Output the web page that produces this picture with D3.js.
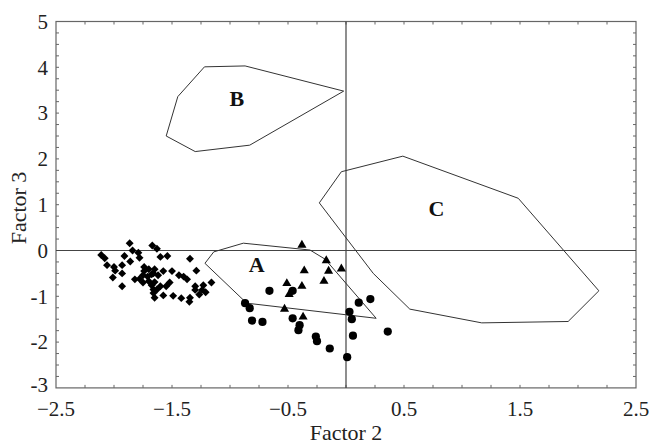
<!DOCTYPE html>
<html><head><meta charset="utf-8">
<script src="https://cdn.jsdelivr.net/npm/d3@7"></script>
<style>body{margin:0;background:#fff}svg{display:block}text{font-family:"Liberation Serif","Times New Roman",serif;fill:#222}</style>
</head><body><div id="chart"></div>
<script>
const xTicks = [-2.5,-1.5,-0.5,0.5,1.5,2.5];
const yTicks = [-3,-2,-1,0,1,2,3,4,5];
const xLabel = "Factor 2", yLabel = "Factor 3";

// point groups [factor2, factor3]
const diamonds = [[-1.865,0.16],[-1.84,0.0],[-1.79,-0.05],[-2.11,-0.10],[-2.08,-0.17],[-1.91,-0.12],[-1.86,-0.24],[-2.06,-0.32],[-2.00,-0.36],[-1.99,-0.44],[-1.93,-0.32],[-2.01,-0.59],[-1.93,-0.50],[-1.74,-0.36],[-1.74,-0.45],[-1.70,-0.41],[-1.82,-0.63],[-1.78,-0.62],[-1.75,-0.54],[-1.71,-0.57],[-1.675,-0.52],[-1.75,-0.70],[-1.70,-0.67],[-1.675,-0.76],[-1.93,-0.78],[-1.66,-0.85],[-1.65,-1.03],[-1.67,0.11],[-1.63,0.04],[-1.60,-0.14],[-1.54,-0.12],[-1.345,-0.18],[-1.29,-0.44],[-1.65,-0.41],[-1.66,-0.50],[-1.62,-0.54],[-1.575,-0.45],[-1.50,-0.45],[-1.44,-0.54],[-1.40,-0.57],[-1.37,-0.63],[-1.52,-0.70],[-1.65,-0.69],[-1.60,-0.78],[-1.55,-0.78],[-1.63,-0.85],[-1.66,-0.93],[-1.575,-0.98],[-1.49,-0.99],[-1.30,-0.78],[-1.23,-0.76],[-1.16,-0.70],[-1.30,-0.86],[-1.24,-0.86],[-1.265,-0.96],[-1.21,-0.91],[-1.345,-1.03],[-1.35,-1.12],[-1.42,-1.04],[-1.78,-0.16]];
const triangles = [[-0.38,0.12],[-0.17,-0.22],[-0.36,-0.44],[-0.15,-0.45],[-0.04,-0.40],[-0.19,-0.67],[-0.51,-0.72],[-0.38,-0.78],[-0.49,-0.96],[-0.53,-1.28],[-0.37,-1.45]];
const circles = [[-0.66,-0.88],[-0.46,-0.88],[-0.87,-1.15],[-0.83,-1.26],[-0.81,-1.53],[-0.72,-1.56],[-0.46,-1.48],[-0.40,-1.63],[-0.41,-1.74],[-0.26,-1.88],[-0.25,-1.98],[-0.14,-2.14],[0.01,-2.33],[0.03,-1.34],[0.05,-1.50],[0.06,-1.86],[0.11,-1.14],[0.21,-1.06],[0.36,-1.77]];

const polyA = [[-1.14,-0.03],[-0.885,0.16],[-0.31,0.01],[-0.18,-0.19],[0.26,-1.48],[-0.856,-1.15],[-1.216,-0.28]];
const polyB = [[-1.22,4.01],[-0.87,4.03],[-0.02,3.48],[-0.83,2.30],[-1.30,2.16],[-1.55,2.50],[-1.45,3.36]];
const polyC = [[-0.04,1.72],[0.49,2.06],[1.485,1.14],[2.18,-0.88],[1.915,-1.55],[1.17,-1.58],[0.55,-1.28],[0.235,-0.50],[-0.23,1.04]];
const labels = [["A",-0.77,-0.30],["B",-0.94,3.33],["C",0.78,0.93]];

const W = 649, H = 446;
const svg = d3.select("#chart").append("svg").attr("width",W).attr("height",H);
const x = d3.scaleLinear().domain([-2.5,2.5]).range([56,636]);
const y = d3.scaleLinear().domain([-3,5]).range([387.9,21.5]);

// frame
svg.append("rect").attr("x",x(-2.5)).attr("y",y(5)).attr("width",x(2.5)-x(-2.5)).attr("height",y(-3)-y(5))
  .attr("fill","none").attr("stroke","#666").attr("stroke-width",1.2);

// inner minor ticks
const xm = d3.range(-2.25,2.5,0.25), ym = d3.range(-2.75,5,0.25);
const tk = svg.append("g").attr("stroke","#666").attr("stroke-width",1);
xm.forEach(v=>{ tk.append("line").attr("x1",x(v)).attr("x2",x(v)).attr("y1",y(-3)).attr("y2",y(-3)-3);
                tk.append("line").attr("x1",x(v)).attr("x2",x(v)).attr("y1",y(5)).attr("y2",y(5)+3); });
ym.forEach(v=>{ tk.append("line").attr("y1",y(v)).attr("y2",y(v)).attr("x1",x(-2.5)).attr("x2",x(-2.5)+3);
                tk.append("line").attr("y1",y(v)).attr("y2",y(v)).attr("x1",x(2.5)).attr("x2",x(2.5)-3); });

// zero lines
svg.append("line").attr("x1",x(-2.5)).attr("x2",x(2.5)).attr("y1",y(0)).attr("y2",y(0)).attr("stroke","#444").attr("stroke-width",1.2);
svg.append("line").attr("x1",x(0)).attr("x2",x(0)).attr("y1",y(5)).attr("y2",y(-3)).attr("stroke","#444").attr("stroke-width",1.2);

// polygons
const line = d3.line().x(d=>x(d[0])).y(d=>y(d[1])).curve(d3.curveLinearClosed);
[polyA,polyB,polyC].forEach(p=>svg.append("path").attr("d",line(p)).attr("fill","none").attr("stroke","#333").attr("stroke-width",1));

// labels
labels.forEach(l=>svg.append("text").attr("x",x(l[1])).attr("y",y(l[2])).attr("text-anchor","middle").attr("dy","0.35em")
  .attr("font-size",22).attr("font-weight","bold").style("fill","#111").text(l[0]));

// markers
const g = svg.append("g").attr("fill","#000");
g.selectAll(".dm").data(diamonds).join("path").attr("d",d3.symbol(d3.symbolDiamond2,40))
  .attr("transform",d=>`translate(${x(d[0])},${y(d[1])})`);
g.selectAll(".tr").data(triangles).join("path").attr("d",d3.symbol(d3.symbolTriangle,36))
  .attr("transform",d=>`translate(${x(d[0])},${y(d[1])})`);
g.selectAll(".ci").data(circles).join("circle").attr("cx",d=>x(d[0])).attr("cy",d=>y(d[1])).attr("r",4.1);

// tick labels
svg.selectAll(".xt").data(xTicks).join("text").attr("x",d=>x(d)).attr("y",415.5).attr("text-anchor","middle")
  .attr("font-size",21).text(d=>d3.format(".1f")(d));
svg.selectAll(".yt").data(yTicks).join("text").attr("x",48).attr("y",d=>d===-3 ? y(d)-3.5 : y(d)).attr("dy","0.35em").attr("text-anchor","end")
  .attr("font-size",21).text(d=>String(d));

// axis titles
svg.append("text").attr("x",x(0)).attr("y",440).attr("text-anchor","middle").attr("font-size",22).text(xLabel);
svg.append("text").attr("transform",`translate(26,${208}) rotate(-90)`).attr("text-anchor","middle").attr("font-size",22).text(yLabel);
</script></body></html>
